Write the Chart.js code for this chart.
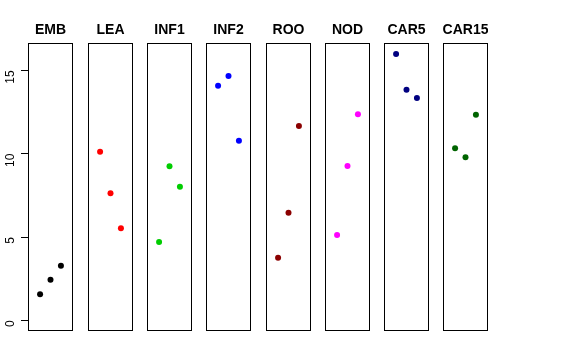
<!DOCTYPE html>
<html>
<head>
<meta charset="utf-8">
<script src="https://cdn.jsdelivr.net/npm/chart.js@4/dist/chart.umd.min.js"></script>
<style>
  body { margin: 0; background: #fff; }
  #wrap { position: relative; width: 576px; height: 360px; overflow: hidden; }
  #wrap canvas { position: absolute; top: 0; }
</style>
</head>
<body>
<div id="wrap"></div>
<script>
// panel names and colours
var panels = ['EMB', 'LEA', 'INF1', 'INF2', 'ROO', 'NOD', 'CAR5', 'CAR15'];
var colors = ['#000000', '#FF0000', '#00CD00', '#0000FF', '#8B0000', '#FF00FF', '#000080', '#006400'];

// x position of the three points in every panel
var xPos = [1, 2, 3];

// values
var embValues   = [1.56, 2.44, 3.28];
var leaValues   = [10.12, 7.62, 5.52];
var inf1Values  = [4.70, 9.24, 8.02];
var inf2Values  = [14.08, 14.66, 10.78];
var rooValues   = [3.76, 6.46, 11.66];
var nodValues   = [5.12, 9.26, 12.36];
var car5Values  = [15.98, 13.84, 13.34];
var car15Values = [10.32, 9.78, 12.34];

var yTicks = [0, 5, 10, 15];

var allValues = [embValues, leaValues, inf1Values, inf2Values, rooValues, nodValues, car5Values, car15Values];

var fontFamily = '"Liberation Sans", Arial, Helvetica, sans-serif';

// box round the plot area + bold title above it
var panelBox = {
    id: 'panelBox',
    afterDraw: function(chart, args, opts){
        var ctx = chart.ctx;
        var a = chart.chartArea;
        ctx.save();
        ctx.strokeStyle = '#000';
        ctx.lineWidth = 1;
        ctx.strokeRect(Math.round(a.left) + 0.5, Math.round(a.top) + 0.5,
                       Math.round(a.width) - 1, Math.round(a.height) - 1);
        ctx.fillStyle = '#000';
        ctx.font = 'bold 14px ' + fontFamily;
        ctx.textAlign = 'center';
        ctx.textBaseline = 'middle';
        ctx.fillText(opts.text, (a.left + a.right) / 2, 30);
        ctx.restore();
    }
};

var wrap = document.getElementById('wrap');
var axisWidth = 28;
var panelWidth = 45;

panels.forEach(function(name, i){
    var left = Math.round(28.3 + 59.3 * i);
    var first = (i === 0);
    var canvas = document.createElement('canvas');
    canvas.width = panelWidth + (first ? axisWidth : 0);
    canvas.height = 331;
    canvas.style.left = (left - (first ? axisWidth : 0)) + 'px';
    wrap.appendChild(canvas);

    var points = xPos.map(function(x, j){
        return { x: x, y: allValues[i][j] };
    });

    new Chart(canvas, {
        type: 'scatter',
        data: {
            datasets: [{
                label: name,
                data: points,
                backgroundColor: colors[i],
                borderWidth: 0,
                pointRadius: 3,
                pointHoverRadius: 3
            }]
        },
        options: {
            responsive: false,
            animation: false,
            events: [],
            layout: { padding: { top: 43, left: 0, right: 0, bottom: 0 }, autoPadding: false },
            plugins: {
                legend: { display: false },
                tooltip: { enabled: false },
                panelBox: { text: name }
            },
            scales: {
                x: { type: 'linear', min: -0.16, max: 4.16, display: false },
                y: {
                    min: -0.64,
                    max: 16.64,
                    display: first,
                    afterFit: function(scale){
                        if (!first) return;
                        scale.width = axisWidth;
                        scale.paddingTop = 0;
                        scale.paddingBottom = 0;
                    },
                    afterBuildTicks: function(scale){
                        scale.ticks = yTicks.map(function(v){ return { value: v }; });
                    },
                    grid: { drawOnChartArea: false, tickLength: 7, color: '#000' },
                    border: { display: false },
                    ticks: {
                        minRotation: 90,
                        maxRotation: 90,
                        color: '#000',
                        padding: 10,
                        font: { size: 12, family: fontFamily }
                    }
                }
            }
        },
        plugins: [panelBox]
    });
});
</script>
</body>
</html>
